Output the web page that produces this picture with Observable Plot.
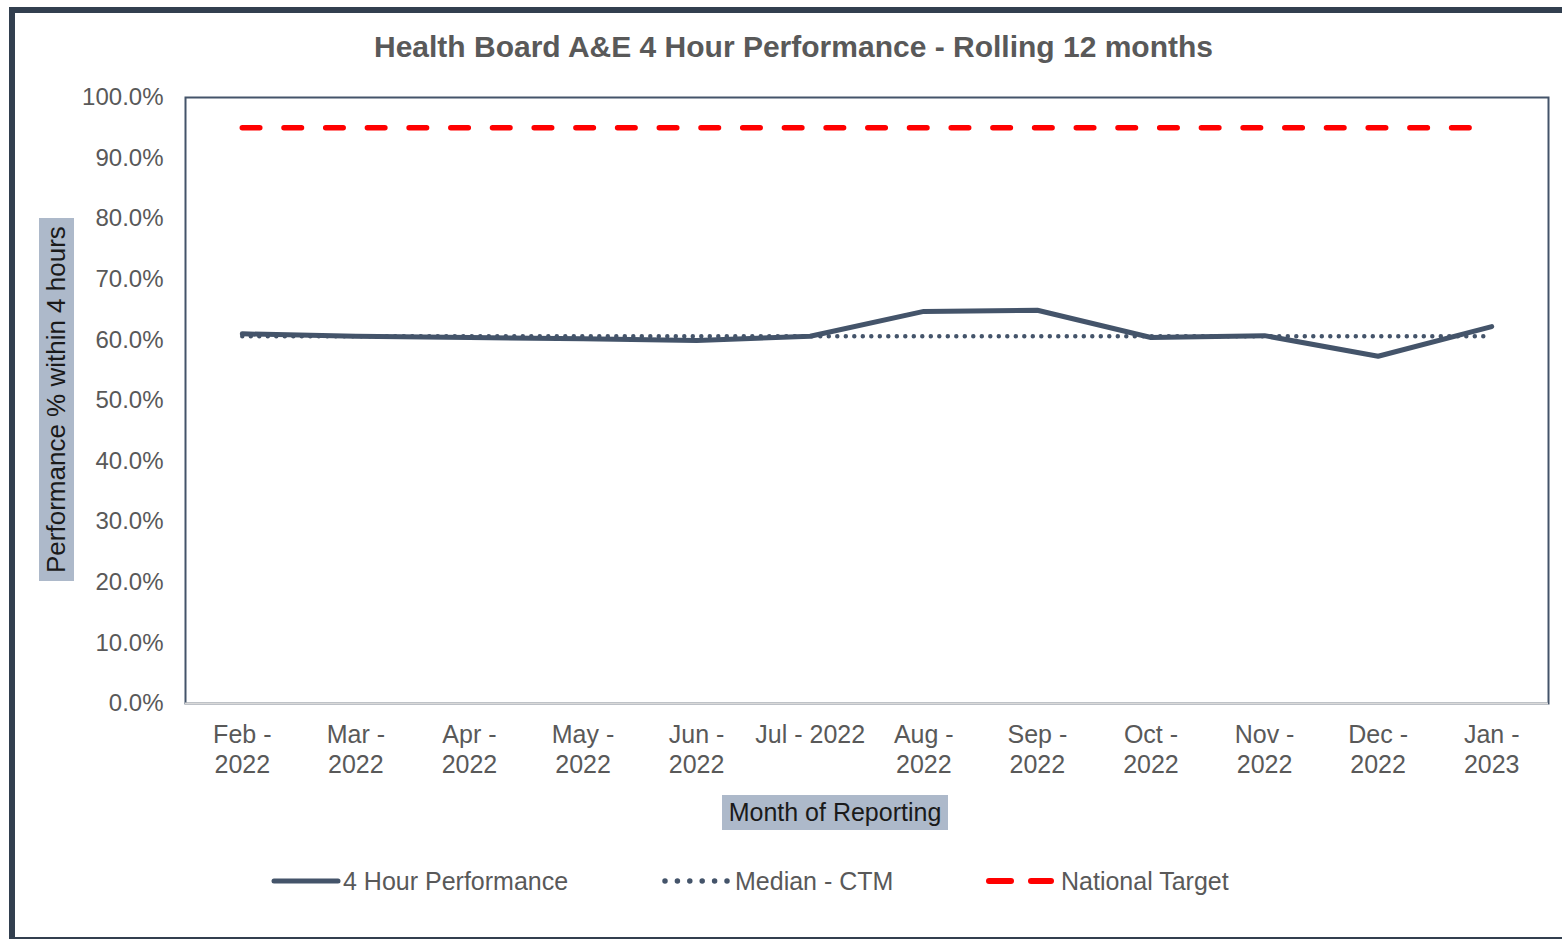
<!DOCTYPE html>
<html><head><meta charset="utf-8">
<script src="https://cdn.jsdelivr.net/npm/d3@7"></script>
<script src="https://cdn.jsdelivr.net/npm/@observablehq/plot@0.6"></script>
<style>
html,body{margin:0;padding:0;background:#fff;}
#page{position:relative;width:1562px;height:940px;overflow:hidden;font-family:"Liberation Sans",Arial,sans-serif;background:#fff;}
#border{position:absolute;left:9px;top:7px;width:1560px;height:932px;box-sizing:border-box;border-left:6px solid #323f4f;border-top:6px solid #323f4f;border-bottom:2px solid #323f4f;}
#title{position:absolute;left:0;top:30px;width:1587px;text-align:center;font-size:30px;font-weight:bold;color:#595959;line-height:34px;white-space:nowrap;}
#chart{position:absolute;left:0;top:80px;}
#ytitle{position:absolute;left:39px;top:218px;width:35px;height:363px;background:#adb9ca;color:#1a1a1a;font-size:26px;writing-mode:vertical-rl;transform:rotate(180deg);text-align:center;line-height:35px;white-space:nowrap;}
#xtitle{position:absolute;left:722px;top:795px;width:226px;height:35px;background:#adb9ca;color:#1a1a1a;font-size:25px;text-align:center;line-height:35px;white-space:nowrap;}
.leg{position:absolute;top:867px;height:28px;line-height:28px;font-size:25px;color:#595959;white-space:nowrap;}
.legsw{position:absolute;top:867px;}
</style>
</head><body>
<div id="page">
  <div id="border"></div>
  <div id="title">Health Board A&amp;E 4 Hour Performance - Rolling 12 months</div>
  <div id="chart"></div>
  <div id="ytitle">Performance % within 4 hours</div>
  <div id="xtitle">Month of Reporting</div>
  <svg class="legsw" style="left:265px" width="82" height="28"><line x1="9" y1="14" x2="73" y2="14" stroke="#44546a" stroke-width="5" stroke-linecap="round"/></svg>
  <div class="leg" style="left:343px">4 Hour Performance</div>
  <svg class="legsw" style="left:655px" width="82" height="28"><line x1="10" y1="14" x2="72" y2="14" stroke="#44546a" stroke-width="5.5" stroke-dasharray="0 12.4" stroke-linecap="round"/></svg>
  <div class="leg" style="left:735px">Median - CTM</div>
  <svg class="legsw" style="left:980px" width="82" height="28"><line x1="9" y1="14" x2="31" y2="14" stroke="#ff0000" stroke-width="6" stroke-linecap="round"/><line x1="51" y1="14" x2="71" y2="14" stroke="#ff0000" stroke-width="6" stroke-linecap="round"/></svg>
  <div class="leg" style="left:1061px">National Target</div>
</div>
<script>
const months = ["Feb 2022","Mar 2022","Apr 2022","May 2022","Jun 2022","Jul 2022","Aug 2022","Sep 2022","Oct 2022","Nov 2022","Dec 2022","Jan 2023"];
const xLabels = ["Feb -\n2022","Mar -\n2022","Apr -\n2022","May -\n2022","Jun -\n2022","Jul - 2022","Aug -\n2022","Sep -\n2022","Oct -\n2022","Nov -\n2022","Dec -\n2022","Jan -\n2023"];
const performance = [61.0, 60.6, 60.4, 60.2, 59.9, 60.6, 64.7, 64.9, 60.4, 60.7, 57.3, 62.2];
const medianCTM = [60.6, 60.6, 60.6, 60.6, 60.6, 60.6, 60.6, 60.6, 60.6, 60.6, 60.6, 60.6];
const nationalTarget = [95, 95, 95, 95, 95, 95, 95, 95, 95, 95, 95, 95];
const yTicks = [0, 10, 20, 30, 40, 50, 60, 70, 80, 90, 100];

const data = months.map((m, i) => ({month: m, perf: performance[i], median: medianCTM[i], target: nationalTarget[i]}));

const chart = Plot.plot({
  width: 1562, height: 700,
  marginTop: 17, marginBottom: 77, marginLeft: 185, marginRight: 14,
  style: {background: "transparent", fontFamily: "Liberation Sans, Arial, sans-serif", overflow: "visible"},
  x: {type: "point", domain: months, padding: 0.5, round: false, axis: null},
  y: {domain: [0, 100], axis: null},
  marks: [
    Plot.frame({stroke: "#44546a", strokeWidth: 2}),
    Plot.ruleY([0], {stroke: "#d9d9d9", strokeWidth: 2}),
    Plot.axisY({ticks: yTicks, tickSize: 0, tickPadding: 22, tickFormat: d => d.toFixed(1) + "%", fontSize: 24, color: "#595959", label: null}),
    Plot.axisX({ticks: months, tickSize: 0, tickPadding: 18, tickFormat: d => xLabels[months.indexOf(d)], fontSize: 25, color: "#595959", lineHeight: 1.2, label: null}),
    Plot.line(data, {x: "month", y: "target", stroke: "#ff0000", strokeWidth: 5.5, strokeDasharray: "17.5 24.2", strokeLinecap: "round"}),
    Plot.line(data, {x: "month", y: "perf", stroke: "#44546a", strokeWidth: 5, strokeLinejoin: "round", strokeLinecap: "round"}),
    Plot.line(data, {x: "month", y: "median", stroke: "#44546a", strokeWidth: 4.5, strokeDasharray: "0 8.5", strokeLinecap: "round"})
  ]
});
document.getElementById("chart").appendChild(chart);
</script>
</body></html>
